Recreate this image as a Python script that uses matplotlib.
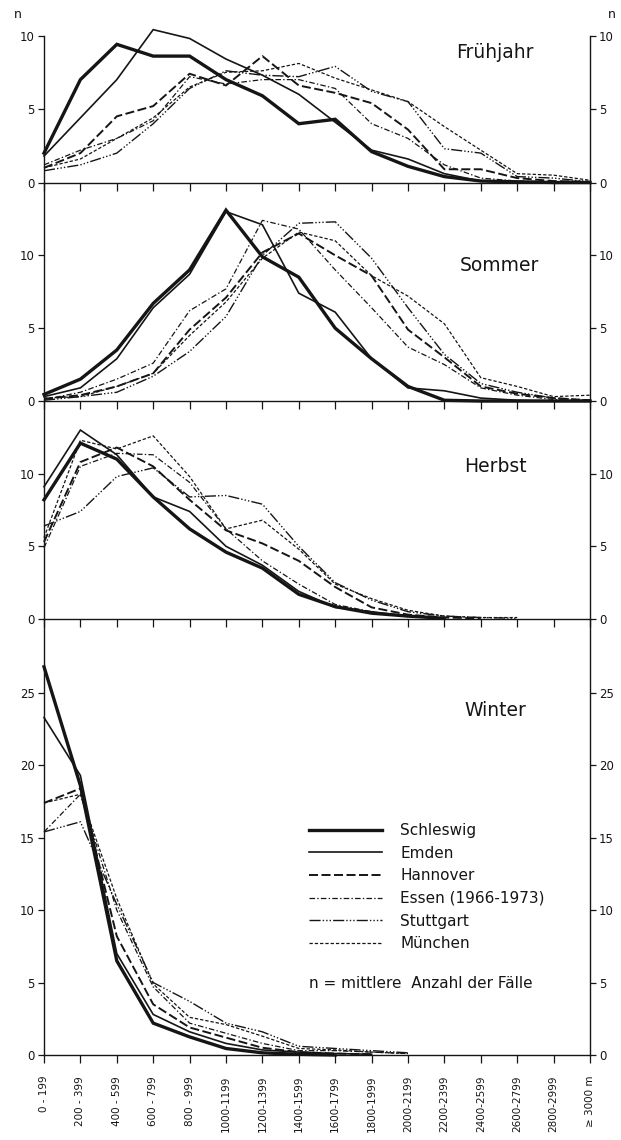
import numpy as np
import matplotlib
matplotlib.use("Agg")
import matplotlib.pyplot as plt
from matplotlib.lines import Line2D

plt.rcParams['font.family'] = ['DejaVu Sans']
plt.rcParams['lines.scale_dashes'] = False

N = np.nan
categories = ["0 - 199", "200 - 399", "400 - 599", "600 - 799", "800 - 999",
              "1000-1199", "1200-1399", "1400-1599", "1600-1799", "1800-1999",
              "2000-2199", "2200-2399", "2400-2599", "2600-2799", "2800-2999",
              "\u2265 3000 m"]
stations = ["Schleswig", "Emden", "Hannover", "Essen (1966-1973)", "Stuttgart", "München"]
seasons = ["Frühjahr", "Sommer", "Herbst", "Winter"]

# Frühjahr
fr_schleswig = [2.0, 7.0, 9.4, 8.6, 8.6, 7.0, 5.9, 4.0, 4.3, 2.1, 1.1, 0.4, 0.1, 0.05, 0.0, 0.0]
fr_emden     = [1.8, 4.4, 7.0, 10.4, 9.8, 8.4, 7.3, 6.0, 4.1, 2.2, 1.6, 0.6, 0.1, 0.05, 0.0, 0.0]
fr_hannover  = [1.0, 2.0, 4.5, 5.2, 7.4, 6.6, 8.6, 6.6, 6.1, 5.4, 3.6, 0.9, 0.9, 0.3, 0.1, 0.05]
fr_essen     = [1.2, 2.2, 3.0, 4.2, 7.2, 6.7, 7.0, 7.0, 6.4, 4.0, 3.0, 1.2, 0.3, 0.1, 0.05, 0.0]
fr_stuttgart = [0.8, 1.2, 2.0, 4.0, 6.4, 7.6, 7.3, 7.2, 7.9, 6.2, 5.5, 2.3, 2.0, 0.4, 0.3, 0.05]
fr_muenchen  = [1.0, 1.6, 3.0, 4.4, 6.5, 7.5, 7.6, 8.1, 7.1, 6.3, 5.5, 3.8, 2.2, 0.6, 0.5, 0.15]

# Sommer
so_schleswig = [0.45, 1.5, 3.5, 6.7, 9.0, 13.1, 9.9, 8.5, 5.0, 2.9, 1.0, 0.05, 0.0, 0.0, 0.0, 0.0]
so_emden     = [0.3, 0.9, 2.9, 6.4, 8.7, 13.0, 12.1, 7.4, 6.1, 2.9, 0.9, 0.7, 0.2, 0.05, 0.0, 0.0]
so_hannover  = [0.15, 0.4, 1.0, 1.9, 4.9, 7.1, 10.2, 11.5, 10.0, 8.6, 4.9, 3.0, 1.0, 0.5, 0.2, 0.05]
so_essen     = [0.1, 0.6, 1.5, 2.6, 6.2, 7.7, 12.4, 11.8, 9.0, 6.4, 3.7, 2.5, 0.9, 0.4, 0.1, 0.0]
so_stuttgart = [0.05, 0.3, 0.6, 1.7, 3.4, 5.8, 10.0, 12.2, 12.3, 9.8, 6.4, 3.2, 1.2, 0.6, 0.2, 0.05]
so_muenchen  = [0.2, 0.3, 1.0, 1.9, 4.5, 6.8, 9.8, 11.6, 11.0, 8.6, 7.2, 5.3, 1.6, 1.0, 0.3, 0.4]

# Herbst
he_schleswig = [8.2, 12.1, 11.0, 8.4, 6.2, 4.6, 3.5, 1.7, 0.85, 0.4, 0.2, 0.05, N, N, N, N]
he_emden     = [9.1, 13.0, 11.3, 8.4, 7.4, 5.0, 3.7, 1.9, 0.8, 0.5, 0.2, 0.05, N, N, N, N]
he_hannover  = [5.3, 10.8, 11.8, 10.5, 8.2, 6.1, 5.2, 4.0, 2.2, 0.8, 0.3, 0.1, 0.05, N, N, N]
he_essen     = [4.9, 10.5, 11.4, 11.3, 9.4, 6.2, 4.0, 2.4, 1.0, 0.5, 0.15, 0.05, N, N, N, N]
he_stuttgart = [6.4, 7.4, 9.8, 10.4, 8.4, 8.5, 7.9, 5.0, 2.5, 1.3, 0.5, 0.2, 0.1, 0.05, N, N]
he_muenchen  = [5.6, 12.3, 11.7, 12.6, 9.8, 6.2, 6.8, 4.8, 2.4, 1.4, 0.6, 0.2, 0.1, 0.1, N, N]

# Winter
wi_schleswig = [26.8, 18.6, 6.5, 2.2, 1.25, 0.45, 0.15, 0.05, 0.0, N, N, N, N, N, N, N]
wi_emden     = [23.3, 19.3, 7.0, 2.8, 1.6, 0.8, 0.35, 0.2, 0.1, 0.05, N, N, N, N, N, N]
wi_hannover  = [17.4, 18.4, 8.2, 3.5, 1.9, 1.2, 0.5, 0.2, 0.1, 0.05, N, N, N, N, N, N]
wi_essen     = [15.4, 18.0, 10.0, 4.7, 2.2, 1.5, 0.8, 0.3, 0.3, 0.2, 0.1, N, N, N, N, N]
wi_stuttgart = [15.4, 16.1, 10.4, 5.0, 3.7, 2.2, 1.6, 0.6, 0.45, 0.3, 0.15, N, N, N, N, N]
wi_muenchen  = [17.4, 18.0, 10.8, 4.9, 2.6, 2.1, 1.3, 0.45, 0.35, 0.2, 0.1, N, N, N, N, N]

season_data = [
    [fr_schleswig, fr_emden, fr_hannover, fr_essen, fr_stuttgart, fr_muenchen],
    [so_schleswig, so_emden, so_hannover, so_essen, so_stuttgart, so_muenchen],
    [he_schleswig, he_emden, he_hannover, he_essen, he_stuttgart, he_muenchen],
    [wi_schleswig, wi_emden, wi_hannover, wi_essen, wi_stuttgart, wi_muenchen],
]

ink = "#151515"
styles = [
    dict(lw=2.4, ls='-'),
    dict(lw=1.2, ls='-'),
    dict(lw=1.4, ls=(0, (6.5, 2.5))),
    dict(lw=0.9, ls=(0, (4, 1.6, 1, 1.6))),
    dict(lw=1.0, ls=(0, (8, 1.5, 1, 1.5, 1, 1.5, 1, 1.5))),
    dict(lw=0.9, ls=(0, (2.4, 1.4))),
]

W_, H_ = 621, 1140
fig = plt.figure(figsize=(W_ / 100, H_ / 100), dpi=100)
fig.patch.set_facecolor('white')
left = 44 / W_
width = 546 / W_
# (bottom_px, top_px, ymax, yticks)
panels = [
    (182.5, 22, 10.92, [0, 5, 10]),
    (401, 182.5, 15.0, [0, 5, 10]),
    (619, 401, 15.0, [0, 5, 10]),
    (1055, 619, 30.1, [0, 5, 10, 15, 20, 25]),
]
label_pos = [(12.4, 8.85), (12.5, 9.3), (12.4, 10.5), (12.4, 23.8)]

x = np.arange(len(categories))
axes = []
for k, (b_px, t_px, ymax, yt) in enumerate(panels):
    ax = fig.add_axes([left, (H_ - b_px) / H_, width, (b_px - t_px) / H_])
    ax.set_facecolor('none')
    ax.set_xlim(0, 15)
    ax.set_ylim(0, ymax)
    for s in ['left', 'right', 'bottom']:
        ax.spines[s].set_linewidth(1.0)
        ax.spines[s].set_color(ink)
    ax.spines['top'].set_visible(False)
    if k == 0:
        ax.spines['left'].set_bounds(0, 10)
        ax.spines['right'].set_bounds(0, 10)
    for j, vals in enumerate(season_data[k]):
        ax.plot(x, vals, color=ink, solid_joinstyle='miter', clip_on=False, **styles[j])
    ax.set_yticks(yt)
    ax.set_xticks(x)
    ax.tick_params(axis='y', direction='out', length=4.5, width=0.9, labelsize=8.5,
                   left=True, right=True, labelleft=True, labelright=True, pad=2, colors=ink)
    ax.tick_params(axis='x', direction='out', length=6, width=0.9, colors=ink,
                   labelbottom=(k == 3), labelsize=7.5, pad=9)
    tx, ty = label_pos[k]
    ax.text(tx, ty, seasons[k], ha='center', va='center', fontsize=13.5, color=ink)
    axes.append(ax)

ax4 = axes[3]
ax4.set_xticklabels(categories, rotation=90, va='top', ha='center')

# "n" labels
fig.text(18 / W_, (H_ - 14) / H_, "n", ha='center', va='center', fontsize=9, color=ink)
fig.text(612 / W_, (H_ - 14) / H_, "n", ha='center', va='center', fontsize=9, color=ink)

# legend
handles = [Line2D([], [], color=ink, **styles[j]) for j in range(len(stations))]
leg = ax4.legend(handles, stations, loc='upper left',
                 bbox_to_anchor=((309 - 44) / 546, (1055 - 823) / 436),
                 frameon=False, fontsize=11, handlelength=4.78, handletextpad=1.18,
                 labelspacing=0.5, borderpad=0, borderaxespad=0)
for t in leg.get_texts():
    t.set_color(ink)
ax4.text((309 - 44) / 546, (1055 - 983) / 436, "n = mittlere  Anzahl der Fälle",
         transform=ax4.transAxes, ha='left', va='center', fontsize=11, color=ink)

fig.savefig("out.png", dpi=100, facecolor='white')
